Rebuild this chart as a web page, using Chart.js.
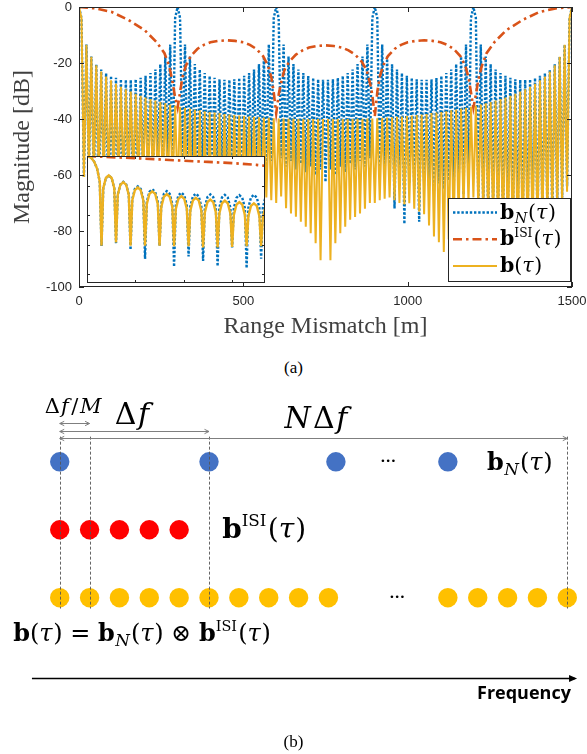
<!DOCTYPE html>
<html>
<head>
<meta charset="utf-8">
<script src="https://cdn.jsdelivr.net/npm/chart.js@4.4.1/dist/chart.umd.min.js"></script>
<style>
  html, body { margin: 0; padding: 0; background: #fff; width: 587px; height: 754px; overflow: hidden; }
  body { position: relative; }
  #wrapA { position: absolute; left: 0; top: 0; width: 587px; height: 350px; }
  #wrapZoom { position: absolute; left: 87px; top: 156px; width: 178px; height: 127px; }
  #wrapB { position: absolute; left: 0; top: 385px; width: 587px; height: 369px; }
  .cap { position: absolute; left: 0; width: 587px; text-align: center; font: 17px "Liberation Serif", serif; color: #000; }
</style>
</head>
<body>
<div id="wrapA"><canvas id="chartA"></canvas></div>
<div id="wrapZoom"><canvas id="chartZoom"></canvas></div>
<div class="cap" style="top:358px">(a)</div>
<div id="wrapB"><canvas id="chartB"></canvas></div>
<div class="cap" style="top:732px">(b)</div>

<script>
// ---------- (a) data, dB values ----------
const nullSpacing = 15; // m between nulls of b(tau)
const rangeTicks = [0, 500, 1000, 1500];
const dbTicks = [0, -20, -40, -60, -80, -100];

// b(tau): lobe tops (between nulls) and null depths
const bPeakDb = [
  -4, -13.5, -17.8, -20.8, -23.0, -24.8, -26.2, -27.4, -28.5, -29.4,
  -30.2, -31.0, -31.7, -32.3, -32.9, -33.4, -33.9, -34.4, -34.8, -35.2,
  -35.6, -36.0, -36.3, -36.6, -36.9, -37.2, -37.5, -37.7, -37.9, -38.2,
  -38.4, -38.6, -38.8, -38.9, -39.1, -39.2, -39.4, -39.5, -39.6, -39.7,
  -39.8, -39.8, -39.9, -39.9, -40.0, -40.0, -40.0, -40.0, -40.0, -40.0,
  -40.0, -40.0, -40.0, -40.0, -40.0, -40.0, -39.9, -39.9, -39.8, -39.8,
  -39.7, -39.6, -39.5, -39.4, -39.2, -39.1, -38.9, -38.8, -38.6, -38.4,
  -38.2, -37.9, -37.7, -37.5, -37.2, -36.9, -36.6, -36.3, -36.0, -35.6,
  -35.2, -34.8, -34.4, -33.9, -33.4, -32.9, -32.3, -31.7, -31.0, -30.2,
  -29.4, -28.5, -27.4, -26.2, -24.8, -23.0, -20.8, -17.8, -13.5, -4
];
const bNullDb = [
  0,
  -60.7, -58.5, -60.7, -60.7, -60.7, -61, -61, -62, -62, -61.5,
  -61, -61, -62, -63, -62, -64, -63, -65, -64, -66,
  -70, -72, -75, -79, -83, -87.5, -84, -82, -78, -74,
  -73, -72, -70.1, -70.5, -70, -69, -68, -68, -69, -70,
  -67.7, -71.9, -73.7, -74.9, -76.7, -78.5, -80.8, -84.4, -90.4, null,
  -90.4, -84.4, -80.8, -78.5, -76, -75, -73.7, -72, -70, -70,
  -69, -68.5, -68, -69, -70, -70.5, -70.1, -72, -73, -74,
  -78, -82, -84, -87.5, -83, -79, -75, -72, -70, -68,
  -72, -74, -76, -78, -80, -82, -84, -86, -88, -86,
  -84, -82, -80, -78, -76, -74, -72, -70, -66, 0
];

// b_N(tau)
const bnPeakDb = [
  -3.9, -13.4, -17.7, -20.4, -22.3, -23.6, -24.6, -25.3, -25.8, -26.0,
  -26.0, -25.8, -25.3, -24.6, -23.6, -22.3, -20.4, -17.7, -13.4, -3.9,
  -3.9, -13.4, -17.7, -20.4, -22.3, -23.6, -24.6, -25.3, -25.8, -26.0,
  -26.0, -25.8, -25.3, -24.6, -23.6, -22.3, -20.4, -17.7, -13.4, -3.9,
  -3.9, -13.4, -17.7, -20.4, -22.3, -23.6, -24.6, -25.3, -25.8, -26.0,
  -26.0, -25.8, -25.3, -24.6, -23.6, -22.3, -20.4, -17.7, -13.4, -3.9,
  -3.9, -13.4, -17.7, -20.4, -22.3, -23.6, -24.6, -25.3, -25.8, -26.0,
  -26.0, -25.8, -25.3, -24.6, -23.6, -22.3, -20.4, -17.7, -13.4, -3.9,
  -3.9, -13.4, -17.7, -20.4, -22.3, -23.6, -24.6, -25.3, -25.8, -26.0,
  -26.0, -25.8, -25.3, -24.6, -23.6, -22.3, -20.4, -17.7, -13.4, -3.9
];
const bnNullDb = [
  0,
  -61, -59, -63.5, -69.7, -61, -75, -68, -71, -74.7, -62,
  -76, -69.5, -60, -58, -62, -57, -60, -56, -58, 0,
  -55, -58, -56, -60, -57, -59, -56, -61, -58, -60,
  -57, -59, -62, -58, -56, -60, -57, -59, -55, 0,
  -54, -57, -55, -58, -56, -59, -57, -60, -58, -62.5,
  -58, -60, -57, -59, -56, -58, -55, -57, -54, 0,
  -58, -60, -62, -72, -64, -77.5, -63, -65, -76.7, -62,
  -64, -66, -63, -65, -62, -66, -64, -67, -63, 0,
  -70, -72, -75, -71, -74, -76, -72, -75, -73, -76,
  -74, -72, -75, -73, -71, -74, -70, -68, -64, 0
];

// b^ISI(tau)
const isiRange = [0, 50, 100, 150, 200, 235, 260, 275, 285, 292, 300, 308, 315, 325, 340, 360, 380, 400, 425, 450,
  475, 500, 520, 540, 560, 575, 585, 592, 600, 608, 615, 625, 640, 660, 680, 700, 725, 750, 775, 800,
  820, 840, 860, 875, 885, 892, 900, 908, 915, 925, 940, 960, 980, 1000, 1025, 1050, 1075, 1100, 1120, 1140,
  1160, 1175, 1185, 1192, 1200, 1208, 1215, 1225, 1240, 1265, 1300, 1350, 1400, 1450, 1500];
const isiDb = [0, -0.5, -1.8, -4.6, -8.3, -12.4, -16.5, -21.3, -27, -32, -36, -30, -25, -21, -17.5, -15, -13.5, -12.6, -12.1, -11.9,
  -12.1, -12.6, -13.5, -15, -17.5, -21, -25, -30, -38, -31, -27, -22.5, -19.5, -17, -15.5, -14.5, -13.9, -13.7, -13.9, -14.5,
  -15.5, -17, -19.5, -22.5, -27, -31, -39, -30, -25, -21, -17.5, -15, -13.5, -12.6, -12.1, -11.9, -12.1, -12.6, -13.5, -15,
  -17.5, -21, -25, -30, -36, -31, -26, -21.3, -16.5, -12.4, -8.3, -4.6, -1.8, -0.5, 0];

// inset (first 184 m)
const zoomRange = [0, 4.5, 7.5, 10.5, 13.2,
  15, 16.8, 19.5, 22.5, 25.5, 28.2,   30, 31.8, 34.5, 37.5, 40.5, 43.2,
  45, 46.8, 49.5, 52.5, 55.5, 58.2,   60, 61.8, 64.5, 67.5, 70.5, 73.2,
  75, 76.8, 79.5, 82.5, 85.5, 88.2,   90, 91.8, 94.5, 97.5, 100.5, 103.2,
  105, 106.8, 109.5, 112.5, 115.5, 118.2,   120, 121.8, 124.5, 127.5, 130.5, 133.2,
  135, 136.8, 139.5, 142.5, 145.5, 148.2,   150, 151.8, 154.5, 157.5, 160.5, 163.2,
  165, 166.8, 169.5, 172.5, 175.5, 178.2,   180, 181.8, 184.5];
const zoomBDb = [0, -1.3, -3.9, -8.7, -17.5,
  -60.7, -21.8, -14.9, -13.1, -14.9, -21.8,   -58.5, -26.4, -19.5, -17.7, -19.5, -26.4,
  -60.7, -30.0, -23.1, -21.3, -23.1, -30.0,   -60.7, -32.6, -25.7, -23.9, -25.7, -32.6,
  -60.7, -34.5, -27.6, -25.8, -27.6, -34.5,   -61, -35.9, -29.0, -27.2, -29.0, -35.9,
  -61, -37.0, -30.1, -28.3, -30.1, -37.0,   -62, -38.2, -31.3, -29.5, -31.3, -38.2,
  -62, -38.9, -32.0, -30.2, -32.0, -38.9,   -61.5, -39.9, -33.0, -31.2, -33.0, -39.9,
  -61, -40.7, -33.8, -32.0, -33.8, -40.7,   -61, -41.2, -34.3];
const zoomBnDb = [0, -1.3, -3.9, -8.7, -17.5,
  -61, -21.9, -15.0, -13.2, -15.0, -21.9,   -59, -26.2, -19.3, -17.5, -19.3, -26.2,
  -63.5, -29.2, -22.3, -20.5, -22.3, -29.2,   -69.7, -31.2, -24.3, -22.5, -24.3, -31.2,
  -61, -32.5, -25.6, -23.8, -25.6, -32.5,   -75, -33.5, -26.6, -24.8, -26.6, -33.5,
  -68, -34.2, -27.3, -25.5, -27.3, -34.2,   -71, -34.7, -27.8, -26.0, -27.8, -34.7,
  -74.7, -35.0, -28.1, -26.3, -28.1, -35.0,   -62, -35.2, -28.3, -26.5, -28.3, -35.2,
  -76, -35.0, -28.1, -26.3, -28.1, -35.0,   -69.5, -34.7, -27.8];
const zoomIsiRange = [0, 25, 50, 75, 100, 125, 150, 175, 184];
const zoomIsiDb = [0, -0.8, -1.5, -2.3, -3.2, -4.0, -4.8, -6.0, -6.7];
const zoomRangeTicks = [50, 100, 150];
const zoomDbTicks = [-20, -40, -60, -80];

// ---------- (b) diagram: tone positions in units of Δf/M ----------
const bnTones = [0, 5, 9.25, 13];
const isiTones = [0, 1, 2, 3, 4];
const bTones = [0, 1, 2, 3, 4, 5, 6, 7, 8, 9, 13, 14, 15, 16, 17];
const guideTones = [0, 1, 5, 17];

const BLUE = "#0072BD", RED = "#D95319", YELLOW = "#EDB120";
const mathFont = '"DejaVu Serif", serif';
const tickFont = { family: '"Liberation Sans", Arial, sans-serif', size: 13, lineHeight: 1.1 };
const labelFont = { family: '"Liberation Serif", serif', size: 24 };

function lobeSeries(peaks, nulls) {
  const pts = [];
  nulls.forEach((v, k) => {
    pts.push({ x: k * nullSpacing, y: v });
    if (k < peaks.length) pts.push({ x: k * nullSpacing + nullSpacing / 2, y: peaks[k] });
  });
  return pts;
}
const zip = (xs, ys) => xs.map((x, i) => ({ x: x, y: ys[i] }));

// math-ish text: runs of {t, b, i, s (scale), dy (em), gap (em)}
function layoutRuns(ctx, runs, size) {
  return runs.map(r => {
    const s = size * (r.s || 1);
    const font = (r.i ? "italic " : "") + (r.b ? "bold " : "") + s + "px " + mathFont;
    ctx.font = font;
    return { t: r.t, font: font, w: ctx.measureText(r.t).width + (r.gap || 0) * size, dy: (r.dy || 0) * size };
  });
}
function drawMath(ctx, runs, x, y, size, align) {
  const m = layoutRuns(ctx, runs, size);
  const total = m.reduce((a, r) => a + r.w, 0);
  let cx = align === "center" ? x - total / 2 : align === "right" ? x - total : x;
  ctx.textAlign = "left";
  ctx.textBaseline = "alphabetic";
  const base = y + size * 0.35;
  m.forEach(r => { ctx.font = r.font; ctx.fillText(r.t, cx, base + r.dy); cx += r.w; });
}
const txtBN = [{ t: "b", b: 1, gap: 0.02 }, { t: "N", i: 1, s: 0.7, dy: 0.22, gap: 0.04 }, { t: "(" }, { t: "τ", i: 1, gap: 0.03 }, { t: ")" }];
const txtBISI = [{ t: "b", b: 1 }, { t: "ISI", s: 0.6, dy: -0.42, gap: 0.05 }, { t: "(" }, { t: "τ", i: 1, gap: 0.03 }, { t: ")" }];
const txtB = [{ t: "b", b: 1 }, { t: "(" }, { t: "τ", i: 1, gap: 0.03 }, { t: ")" }];

function arrow(ctx, x1, y1, x2, y2, size) {
  const a = Math.atan2(y2 - y1, x2 - x1);
  ctx.beginPath();
  ctx.moveTo(x2, y2);
  ctx.lineTo(x2 - size * Math.cos(a - 0.45), y2 - size * Math.sin(a - 0.45));
  ctx.moveTo(x2, y2);
  ctx.lineTo(x2 - size * Math.cos(a + 0.45), y2 - size * Math.sin(a + 0.45));
  ctx.stroke();
}

// ---------- (a) main chart ----------
const matlabAxes = {
  id: "matlabAxes",
  afterDatasetsDraw(chart) {
    const { ctx, chartArea: a, scales: { x, y } } = chart;
    ctx.save();
    ctx.strokeStyle = "#262626";
    ctx.lineWidth = 1;
    ctx.beginPath();
    rangeTicks.forEach(v => {
      const px = Math.round(x.getPixelForValue(v)) + 0.5;
      ctx.moveTo(px, a.bottom); ctx.lineTo(px, a.bottom - 5);
      ctx.moveTo(px, a.top); ctx.lineTo(px, a.top + 5);
    });
    dbTicks.forEach(v => {
      const py = Math.round(y.getPixelForValue(v)) + 0.5;
      ctx.moveTo(a.left, py); ctx.lineTo(a.left + 5, py);
      ctx.moveTo(a.right, py); ctx.lineTo(a.right - 5, py);
    });
    ctx.stroke();
    ctx.strokeRect(Math.round(a.left) + 0.5, Math.round(a.top) + 0.5, Math.round(a.width) - 1, Math.round(a.height) - 1);

    // legend box, bottom right of the axes
    const L = Math.round(a.right) - 124, R = Math.round(a.right) - 2, T = Math.round(a.bottom) - 89, B = Math.round(a.bottom) - 6;
    ctx.fillStyle = "#fff";
    ctx.fillRect(L, T, R - L, B - T);
    ctx.strokeRect(L + 0.5, T + 0.5, R - L, B - T);
    const rows = [
      { c: BLUE, w: 2.4, d: [2.4, 1.8], txt: txtBN },
      { c: RED, w: 2.6, d: [9, 4, 2.5, 4], txt: txtBISI },
      { c: YELLOW, w: 2, d: [], txt: txtB }
    ];
    rows.forEach((r, i) => {
      const ry = T + 14.5 + i * 26.7;
      ctx.strokeStyle = r.c; ctx.lineWidth = r.w; ctx.setLineDash(r.d);
      ctx.beginPath(); ctx.moveTo(L + 5, ry); ctx.lineTo(L + 49, ry); ctx.stroke();
      ctx.setLineDash([]);
      ctx.fillStyle = "#000";
      drawMath(ctx, r.txt, L + 52, ry - 1, 20.5, "left");
    });
    ctx.restore();
  }
};

new Chart(document.getElementById("chartA"), {
  type: "line",
  data: {
    datasets: [
      { label: "b", data: lobeSeries(bPeakDb, bNullDb), borderColor: YELLOW, borderWidth: 2.0, order: 0 },
      { label: "bISI", data: zip(isiRange, isiDb), borderColor: RED, borderWidth: 2.6, borderDash: [9, 4, 2.5, 4], order: 1 },
      { label: "bN", data: lobeSeries(bnPeakDb, bnNullDb), borderColor: BLUE, borderWidth: 2.4, borderDash: [2.4, 1.8], order: 2 }
    ]
  },
  options: {
    responsive: true,
    maintainAspectRatio: false,
    animation: false,
    spanGaps: false,
    elements: { point: { radius: 0 }, line: { tension: 0 } },
    layout: { padding: { top: 7, right: 15, left: 0, bottom: 0 }, autoPadding: false },
    plugins: { legend: { display: false }, tooltip: { enabled: false } },
    scales: {
      x: {
        type: "linear", min: 0, max: 1500,
        afterBuildTicks: s => { s.ticks = rangeTicks.map(v => ({ value: v })); },
        afterFit: s => { s.height = 63; s.paddingLeft = 0; s.paddingRight = 0; },
        grid: { display: false, drawTicks: false },
        border: { display: false },
        ticks: { font: tickFont, color: "#262626", padding: 7, maxRotation: 0, callback: v => String(v) },
        title: { display: true, text: "Range Mismatch [m]", color: "#404040", font: labelFont, padding: { top: 0, bottom: 8.5 } }
      },
      y: {
        type: "linear", min: -100, max: 0,
        afterBuildTicks: s => { s.ticks = dbTicks.map(v => ({ value: v })); },
        afterFit: s => { s.width = 79; s.paddingTop = 0; s.paddingBottom = 0; },
        grid: { display: false, drawTicks: false },
        border: { display: false },
        ticks: { font: tickFont, color: "#262626", padding: 7, callback: v => String(v) },
        title: { display: true, text: "Magnitude [dB]", color: "#404040", font: labelFont, padding: { top: 8.5, bottom: 0 } }
      }
    }
  },
  plugins: [matlabAxes]
});

// ---------- (a) inset ----------
const insetFrame = {
  id: "insetFrame",
  beforeDraw(chart) {
    const { ctx, width, height } = chart;
    ctx.save(); ctx.fillStyle = "#fff"; ctx.fillRect(0, 0, width, height); ctx.restore();
  },
  afterDatasetsDraw(chart) {
    const { ctx, width, height, scales: { x, y } } = chart;
    ctx.save();
    ctx.strokeStyle = "#262626"; ctx.lineWidth = 1;
    ctx.beginPath();
    zoomRangeTicks.forEach(v => {
      const px = Math.round(x.getPixelForValue(v)) + 0.5;
      ctx.moveTo(px, height); ctx.lineTo(px, height - 3);
      ctx.moveTo(px, 0); ctx.lineTo(px, 3);
    });
    zoomDbTicks.forEach(v => {
      const py = Math.round(y.getPixelForValue(v)) + 0.5;
      ctx.moveTo(0, py); ctx.lineTo(3, py);
      ctx.moveTo(width, py); ctx.lineTo(width - 3, py);
    });
    ctx.stroke();
    ctx.strokeRect(0.5, 0.5, width - 1, height - 1);
    ctx.restore();
  }
};

new Chart(document.getElementById("chartZoom"), {
  type: "line",
  data: {
    datasets: [
      { data: zip(zoomRange, zoomBDb), borderColor: YELLOW, borderWidth: 2.4, order: 0 },
      { data: zip(zoomIsiRange, zoomIsiDb), borderColor: RED, borderWidth: 2.6, borderDash: [9, 4, 2.5, 4], order: 1 },
      { data: zip(zoomRange, zoomBnDb), borderColor: BLUE, borderWidth: 2.4, borderDash: [2.4, 1.8], order: 2 }
    ]
  },
  options: {
    responsive: true,
    maintainAspectRatio: false,
    animation: false,
    elements: { point: { radius: 0 }, line: { tension: 0 } },
    layout: { padding: 0, autoPadding: false },
    plugins: { legend: { display: false }, tooltip: { enabled: false } },
    scales: {
      x: { type: "linear", min: 0, max: 184, display: false },
      y: { type: "linear", min: -86, max: 0, display: false }
    }
  },
  plugins: [insetFrame]
});

// ---------- (b) diagram ----------
const diagramNotes = {
  id: "diagramNotes",
  afterDatasetsDraw(chart) {
    const { ctx, scales: { x, y } } = chart;
    const X = v => x.getPixelForValue(v), Y = v => y.getPixelForValue(v);
    ctx.save();
    // dashed guides
    ctx.strokeStyle = "#555"; ctx.lineWidth = 0.9; ctx.setLineDash([3, 2]);
    guideTones.forEach(t => {
      ctx.beginPath(); ctx.moveTo(Math.round(X(t)) + 0.5, Y(3.37)); ctx.lineTo(Math.round(X(t)) + 0.5, Y(0.84)); ctx.stroke();
    });
    ctx.setLineDash([]);
    // spacing arrows
    ctx.strokeStyle = "#7f7f7f"; ctx.lineWidth = 1;
    [[1, 3.57], [5, 3.46], [17, 3.35]].forEach(([t, row]) => {
      const yy = Math.round(Y(row)) + 0.5;
      ctx.beginPath(); ctx.moveTo(X(0), yy); ctx.lineTo(X(t), yy); ctx.stroke();
      arrow(ctx, X(t), yy, X(0), yy, 5);
      arrow(ctx, X(0), yy, X(t), yy, 5);
    });
    ctx.fillStyle = "#000";
    drawMath(ctx, [{ t: "Δ", gap: 0.05 }, { t: "f", i: 1, gap: 0.12 }, { t: "/", gap: 0.08 }, { t: "M", i: 1 }], X(0.45), Y(3.82), 21, "center");
    drawMath(ctx, [{ t: "Δ", gap: 0.05 }, { t: "f", i: 1 }], X(2.42), Y(3.71), 30, "center");
    drawMath(ctx, [{ t: "N", i: 1, gap: 0.08 }, { t: "Δ", gap: 0.05 }, { t: "f", i: 1 }], X(8.58), Y(3.65), 30, "center");
    drawMath(ctx, txtBN, X(14.31), Y(3.0), 24, "left");
    drawMath(ctx, txtBISI, X(5.44), Y(2.03), 28, "left");
    drawMath(ctx, [].concat(txtB, [{ t: " = " }], txtBN, [{ t: " ⊗ " }], txtBISI), X(-1.56), Y(0.485), 24, "left");
    // ellipses
    ctx.font = '9px "DejaVu Sans", sans-serif';
    ctx.textAlign = "center"; ctx.textBaseline = "middle";
    ctx.fillText("•••", X(11.0), Y(3.0));
    ctx.fillText("•••", X(11.3), Y(1.0));
    // frequency axis
    ctx.strokeStyle = "#000"; ctx.lineWidth = 1.3;
    const fy = Math.round(Y(-0.176)) + 0.5;
    ctx.beginPath(); ctx.moveTo(X(-0.93), fy); ctx.lineTo(X(17.26), fy); ctx.stroke();
    ctx.beginPath();
    ctx.moveTo(X(17.26) + 2, fy); ctx.lineTo(X(17.26) - 6, fy - 3.5); ctx.lineTo(X(17.26) - 6, fy + 3.5); ctx.closePath();
    ctx.fill();
    ctx.font = 'bold 18px "Open Sans", sans-serif';
    ctx.textAlign = "right"; ctx.textBaseline = "middle";
    ctx.fillText("Frequency", X(17.12), Y(-0.41));
    ctx.restore();
  }
};

new Chart(document.getElementById("chartB"), {
  type: "scatter",
  data: {
    datasets: [
      { data: bnTones.map(t => ({ x: t, y: 3 })), backgroundColor: "#4472C4" },
      { data: isiTones.map(t => ({ x: t, y: 2 })), backgroundColor: "#FF0000" },
      { data: bTones.map(t => ({ x: t, y: 1 })), backgroundColor: "#FFC000" }
    ]
  },
  options: {
    responsive: true,
    maintainAspectRatio: false,
    animation: false,
    elements: { point: { radius: 9.7, borderWidth: 0, hoverRadius: 9.7 } },
    layout: { padding: 0, autoPadding: false },
    plugins: { legend: { display: false }, tooltip: { enabled: false } },
    scales: {
      x: { type: "linear", min: -2.0, max: 17.66, display: false },
      y: { type: "linear", min: -1.3, max: 4.13, display: false }
    }
  },
  plugins: [diagramNotes]
});
</script>
</body>
</html>
